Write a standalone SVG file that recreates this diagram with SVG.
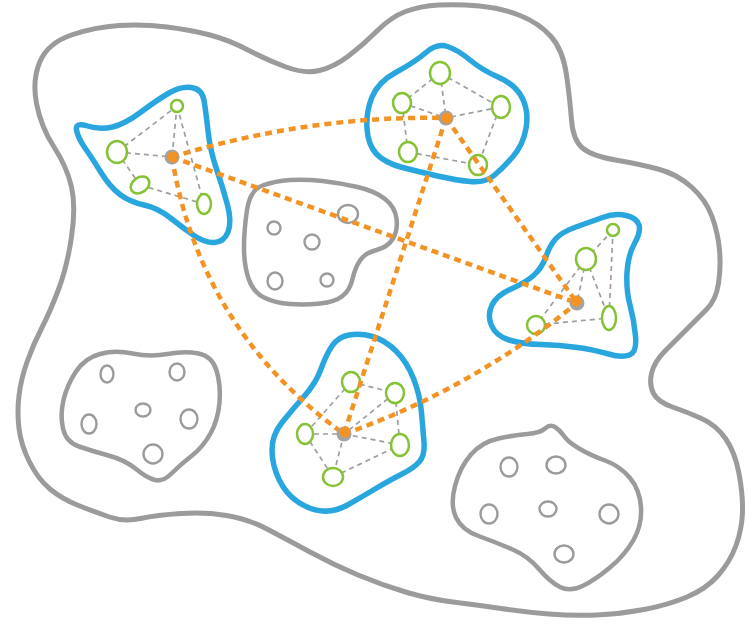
<svg xmlns="http://www.w3.org/2000/svg" width="748" height="624" viewBox="0 0 748 624">
<style>
.outer{fill:none;stroke:#9b9b9b;stroke-width:5;stroke-linejoin:round}
.blob{fill:none;stroke:#9b9b9b;stroke-width:4.5;stroke-linejoin:round}
.hole{fill:none;stroke:#9b9b9b;stroke-width:2.4}
.clus{fill:none;stroke:#2aa6df;stroke-width:5.5;stroke-linejoin:round}
.edge{stroke:#9e9e9e;stroke-width:1.7;stroke-dasharray:5 4;fill:none}
.node{fill:#fff;stroke:#85c236;stroke-width:2.5}
.link{fill:none;stroke:#f39323;stroke-width:4.5;stroke-dasharray:7 5}
.hubg{fill:#a3a3a3}
.hubo{fill:#f39323}
</style>
<rect width="748" height="624" fill="#fff"/>
<g id="region">
<path class="outer" d="M36.5,103.5 Q32,80 40,61.5 Q48,43 71.5,35 Q95,27 119,25.5 Q143,24 167,27 Q191,30 210,35 Q229,40 248,50 Q267,60 286,67 Q305,74 319.5,70.5 Q334,67 348.5,56 Q363,45 377,31 Q391,17 405.5,11.5 Q420,6 439,5 Q458,4 479.5,6 Q501,8 520,15.5 Q539,23 551,36.5 Q563,50 566.5,75 Q570,100 571.5,120 Q573,140 582.5,148 Q592,156 615.5,160 Q639,164 658,169 Q677,174 691.5,187 Q706,200 712,216.5 Q718,233 719.5,250 Q721,267 718.5,283.5 Q716,300 706.5,309.5 Q697,319 687,329 Q677,339 665.5,350.5 Q654,362 651.5,373.5 Q649,385 653.5,393.5 Q658,402 672.5,407 Q687,412 701.5,418.5 Q716,425 725.5,438.5 Q735,452 739,473.5 Q743,495 742.5,512 Q742,529 736,545.5 Q730,562 718,575.5 Q706,589 687,597 Q668,605 644,609.5 Q620,614 596.5,615 Q573,616 549,614 Q525,612 501,608.5 Q477,605 453,602 Q429,599 405.5,592 Q382,585 358,575 Q334,565 310,552 Q286,539 267,529 Q248,519 226.5,515.5 Q205,512 181,513.5 Q157,515 140.5,518.5 Q124,522 109.5,517 Q95,512 78.5,505.5 Q62,499 50,489 Q38,479 29.5,462 Q21,445 19,428.5 Q17,412 19,395.5 Q21,379 27,362 Q33,345 41.5,328.5 Q50,312 58.5,289.5 Q67,267 71.5,237 Q76,207 71.5,187 Q67,167 54,147 Q41,127 36.5,103.5 Z"/>
</g>
<g id="blobA">
<path class="blob" d="M247,210 Q250,190 262.5,185.5 Q275,181 290,180 Q305,179 322.5,181 Q340,183 357.5,187 Q375,191 385,199 Q395,207 396.5,218.5 Q398,230 393,238.5 Q388,247 376.5,250 Q365,253 360,260.5 Q355,268 352.5,279 Q350,290 342.5,296 Q335,302 320,303.5 Q305,305 290,304 Q275,303 264,297.5 Q253,292 248.5,278.5 Q244,265 244,247.5 Q244,230 247,210 Z"/>
<ellipse class="hole" cx="348" cy="214" rx="10" ry="9"/>
<ellipse class="hole" cx="274" cy="228" rx="6.5" ry="6.5"/>
<ellipse class="hole" cx="312" cy="242" rx="7.5" ry="7.5"/>
<ellipse class="hole" cx="275" cy="281" rx="7.5" ry="8.5"/>
<ellipse class="hole" cx="327" cy="280" rx="6.5" ry="6.5"/>
</g>
<g id="blobB">
<path class="blob" d="M76,371.5 Q85,358 100,354 Q115,350 132.5,353.5 Q150,357 167.5,354 Q185,351 198.5,353.5 Q212,356 216.5,370.5 Q221,385 219.5,402.5 Q218,420 210.5,433.5 Q203,447 191.5,456 Q180,465 171.5,473.5 Q163,482 155,480 Q147,478 136,469 Q125,460 108.5,455.5 Q92,451 79,446.5 Q66,442 63,428.5 Q60,415 63.5,400 Q67,385 76,371.5 Z"/>
<ellipse class="hole" cx="107" cy="374" rx="6.5" ry="8.5"/>
<ellipse class="hole" cx="177" cy="372" rx="7.5" ry="8.5"/>
<ellipse class="hole" cx="89" cy="424" rx="7.5" ry="9.5"/>
<ellipse class="hole" cx="143" cy="410" rx="7.5" ry="6.5"/>
<ellipse class="hole" cx="189" cy="419" rx="8.5" ry="9.5"/>
<ellipse class="hole" cx="153" cy="454" rx="9.5" ry="9.5"/>
</g>
<g id="blobC">
<path class="blob" d="M471,454.5 Q482,442 498.5,438.5 Q515,435 527.5,434 Q540,433 545,428.5 Q550,424 555,427 Q560,430 564,436 Q568,442 579,448.5 Q590,455 605,460.5 Q620,466 630,478 Q640,490 641,507.5 Q642,525 633.5,540 Q625,555 610,567.5 Q595,580 582.5,586 Q570,592 560,587 Q550,582 539,569 Q528,556 511.5,549 Q495,542 478.5,536 Q462,530 456,517.5 Q450,505 455,486 Q460,467 471,454.5 Z"/>
<ellipse class="hole" cx="509" cy="467" rx="8.5" ry="9.5"/>
<ellipse class="hole" cx="556" cy="465" rx="9.5" ry="8.5"/>
<ellipse class="hole" cx="489" cy="514" rx="8.5" ry="9.5"/>
<ellipse class="hole" cx="548" cy="509" rx="8.5" ry="7.5"/>
<ellipse class="hole" cx="609" cy="514" rx="9.5" ry="9.5"/>
<ellipse class="hole" cx="564" cy="554" rx="9.5" ry="8.5"/>
</g>
<g id="cluster1">
<path class="clus" d="M76.5,130 Q75,122 87.5,126 Q100,130 112.5,127 Q125,124 141,112 Q157,100 169,93 Q181,86 191.5,87.5 Q202,89 204,100.5 Q206,112 208,131 Q210,150 216.5,169 Q223,188 227.5,205 Q232,222 228,232 Q224,242 214.5,242.5 Q205,243 194,235.5 Q183,228 170.5,218 Q158,208 144,205 Q130,202 120,194.5 Q110,187 101,172.5 Q92,158 85,148 Q78,138 76.5,130 Z"/>
<path class="edge" d="M117,152 L177,106 M177,106 L172,157 M177,106 L204,204 M117,152 L172,157 M117,152 L140,185 M140,185 L204,204"/>
<ellipse class="node" cx="177" cy="106" rx="6" ry="6"/>
<ellipse class="node" cx="117" cy="152" rx="10" ry="11"/>
<ellipse class="node" cx="140" cy="185" rx="10" ry="7.5" transform="rotate(-35 140 185)"/>
<ellipse class="node" cx="204" cy="204" rx="7" ry="10"/>
</g>
<g id="cluster2">
<path class="clus" d="M396.5,72 Q415,62 426,52.5 Q437,43 447.5,46.5 Q458,50 470,60 Q482,70 499,77.5 Q516,85 522.5,98.5 Q529,112 526,128.5 Q523,145 513,156.5 Q503,168 494,175.5 Q485,183 470,181.5 Q455,180 437.5,176 Q420,172 402.5,167.5 Q385,163 376.5,154 Q368,145 367,128.5 Q366,112 372,97 Q378,82 396.5,72 Z"/>
<path class="edge" d="M440,73 L402,103 M440,73 L500,107 M440,73 L446,118 M402,103 L446,118 M500,107 L446,118 M402,103 L408,152 M500,107 L478,165 M408,152 L478,165"/>
<ellipse class="node" cx="440" cy="73" rx="10" ry="11"/>
<ellipse class="node" cx="402" cy="103" rx="9" ry="10"/>
<ellipse class="node" cx="501" cy="107" rx="9" ry="11"/>
<ellipse class="node" cx="408" cy="152" rx="9" ry="10"/>
<ellipse class="node" cx="478" cy="165" rx="9" ry="10"/>
</g>
<g id="cluster3">
<path class="clus" d="M546,256.5 Q550,245 556,238.5 Q562,232 576,227 Q590,222 602.5,217.5 Q615,213 626,215.5 Q637,218 639,225 Q641,232 634.5,243.5 Q628,255 627,272.5 Q626,290 630,305 Q634,320 635.5,336 Q637,352 629.5,355 Q622,358 608.5,354 Q595,350 577.5,347.5 Q560,345 541,344.5 Q522,344 509,340 Q496,336 491.5,325.5 Q487,315 492,305 Q497,295 511,289 Q525,283 533.5,275.5 Q542,268 546,256.5 Z"/>
<path class="edge" d="M613,230 L586,259 M613,230 L609,318 M586,259 L609,318 M586,259 L536,325 M536,325 L609,318 M586,259 L577,303"/>
<ellipse class="node" cx="613" cy="230" rx="6" ry="6"/>
<ellipse class="node" cx="586" cy="259" rx="10" ry="11"/>
<ellipse class="node" cx="609" cy="318" rx="7" ry="12"/>
<ellipse class="node" cx="536" cy="325" rx="9" ry="9"/>
</g>
<g id="cluster4">
<path class="clus" d="M332,346 Q338,337 349,335 Q360,333 372.5,336.5 Q385,340 396,351 Q407,362 413.5,378.5 Q420,395 421.5,412.5 Q423,430 424,442.5 Q425,455 419.5,461.5 Q414,468 402,474 Q390,480 375,489 Q360,498 347.5,505 Q335,512 322.5,511 Q310,510 298,502 Q286,494 279,479.5 Q272,465 272,450 Q272,435 282,422.5 Q292,410 304,396.5 Q316,383 321,369 Q326,355 332,346 Z"/>
<path class="edge" d="M351,382 L395,393 M351,382 L305,434 M305,434 L344,434 M344,434 L400,445 M305,434 L333,477 M333,477 L400,445 M344,434 L333,477 M395,393 L344,434 M395,393 L400,445"/>
<ellipse class="node" cx="351" cy="382" rx="9" ry="10"/>
<ellipse class="node" cx="395" cy="393" rx="9" ry="10"/>
<ellipse class="node" cx="305" cy="434" rx="8" ry="10"/>
<ellipse class="node" cx="400" cy="445" rx="9" ry="11"/>
<ellipse class="node" cx="333" cy="477" rx="10" ry="9"/>
</g>
<g id="connectors">
<path class="link" d="M172,157 Q310,115 446,118"/>
<path class="link" d="M172,157 L577,303"/>
<path class="link" d="M172,157 Q200,330 344,434"/>
<path class="link" d="M446,118 L344,434"/>
<path class="link" d="M446,118 L577,303"/>
<path class="link" d="M344,434 Q470,390 577,303"/>
</g>
<g id="hubs">
<g id="hub1"><circle class="hubg" cx="172" cy="157" r="7.5"/><circle class="hubo" cx="173" cy="157" r="5.5"/></g>
<g id="hub2"><circle class="hubg" cx="446" cy="118" r="7.5"/><circle class="hubo" cx="447" cy="118" r="5.5"/></g>
<g id="hub3"><circle class="hubg" cx="577" cy="303" r="7.5"/><circle class="hubo" cx="576" cy="301" r="5.5"/></g>
<g id="hub4"><circle class="hubg" cx="344" cy="434" r="7.5"/><circle class="hubo" cx="345" cy="432" r="5.5"/></g>
</g>
</svg>
